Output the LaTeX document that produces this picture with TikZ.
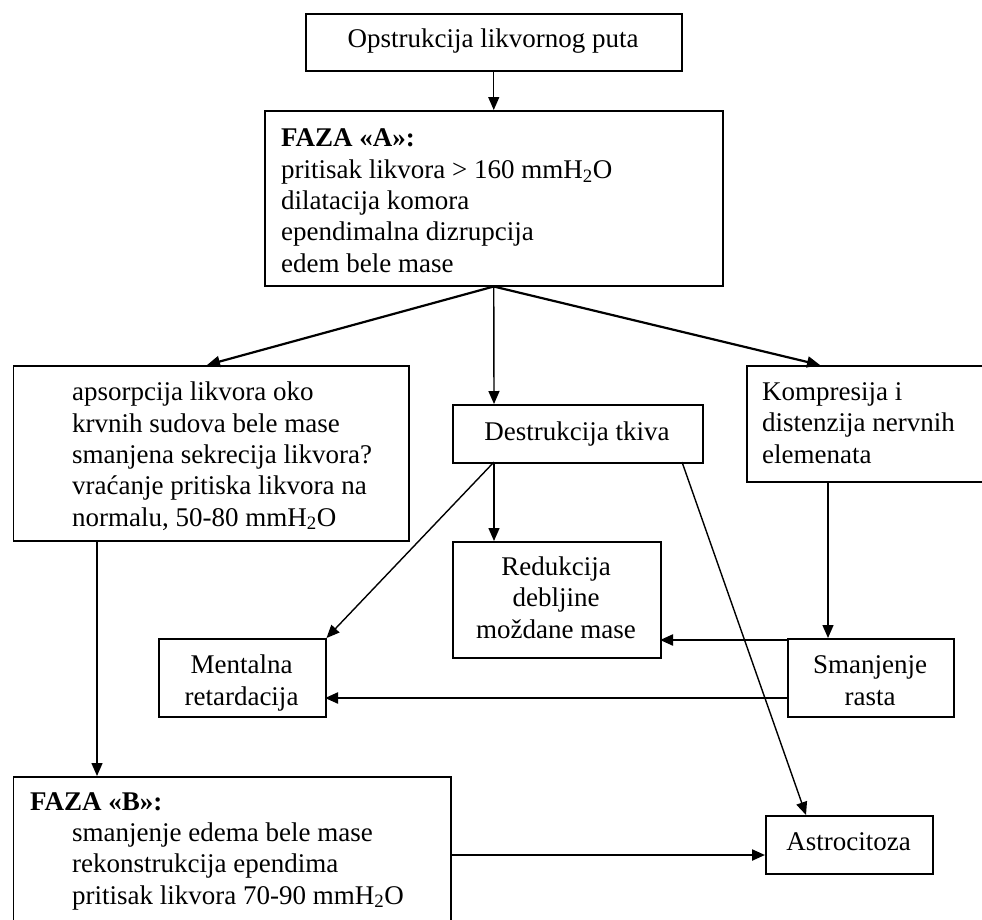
\documentclass[tikz,border=0pt]{standalone}
\usepackage{fontspec}
\setmainfont{Liberation Serif}
\usetikzlibrary{arrows.meta}
\begin{document}
\begin{tikzpicture}[x=1pt,y=-1pt,
  box/.style={draw, line width=1.5pt, inner sep=0pt, anchor=north west},
  txt/.style={anchor=base west, inner sep=0pt, align=left, font=\fontsize{27}{31.3}\selectfont},
  ctxt/.style={anchor=base, inner sep=0pt, align=center, font=\fontsize{27}{31.3}\selectfont},
  thin/.style={line width=1.4pt, -{Triangle[length=13pt,width=11pt]}},
  thick/.style={line width=2.2pt, -{Triangle[length=13pt,width=11pt]}}]
\useasboundingbox (0,0) rectangle (982,919);
% boxes
\node[box, minimum width=376pt, minimum height=57pt] (top) at (305,13) {};
\node[box, minimum width=458pt, minimum height=175pt] (fazaA) at (264,110) {};
\node[box, minimum width=395.5pt, minimum height=175pt] (left) at (12.5,365) {};
\node[box, minimum width=250pt, minimum height=58pt] (dest) at (452,404) {};
\node[box, minimum width=240pt, minimum height=116pt] (right) at (746,365) {};
\node[box, minimum width=208pt, minimum height=116pt] (red) at (452,541) {};
\node[box, minimum width=167pt, minimum height=78pt] (ment) at (158,638) {};
\node[box, minimum width=166pt, minimum height=78pt] (sman) at (787,638) {};
\node[box, minimum width=167pt, minimum height=58pt] (astro) at (765,815) {};
\node[box, minimum width=437.5pt, minimum height=160pt] (fazaB) at (12.5,776) {};
% texts (base anchor = baseline of the last line)
\node[ctxt] (topT) at (493,47) {Opstrukcija likvornog puta};
\node[txt] (fazaAT) at (281,272) {\textbf{FAZA «A»:}\\pritisak likvora > 160 mmH\textsubscript{2}O\\dilatacija komora\\ependimalna dizrupcija\\edem bele mase};
\node[txt] (leftT) at (72,526) {apsorpcija likvora oko\\krvnih sudova bele mase\\smanjena sekrecija likvora?\\vraćanje pritiska likvora na\\normalu, 50-80 mmH\textsubscript{2}O};
\node[ctxt] (destT) at (577,440) {Destrukcija tkiva};
\node[txt] (rightT) at (762,463) {Kompresija i\\distenzija nervnih\\elemenata};
\node[ctxt] (redT) at (556,638) {Redukcija\\debljine\\moždane mase};
\node[ctxt] (mentT) at (241.5,705) {Mentalna\\retardacija};
\node[ctxt] (smanT) at (870,705) {Smanjenje\\rasta};
\node[ctxt] (astroT) at (848.5,850) {Astrocitoza};
\node[txt] (fazaBH) at (30,810) {\textbf{FAZA «B»:}};
\node[txt] (fazaBT) at (72,904) {smanjenje edema bele mase\\rekonstrukcija ependima\\pritisak likvora 70-90 mmH\textsubscript{2}O};
% connector end points
\coordinate (lt) at (207,365);
\coordinate (rt) at (820,365);
\coordinate (dt) at (494,404);
\coordinate (db) at (494,462);
\coordinate (rdt) at (494,541);
\coordinate (db2) at (682,462);
\coordinate (at) at (806,815);
\coordinate (lb) at (97,540);
\coordinate (bt) at (97,776);
\coordinate (rb) at (828,481);
\coordinate (st) at (828,638);
\coordinate (sl1) at (787,640);
\coordinate (rr) at (660,640);
\coordinate (sl2) at (787,698);
\coordinate (mr) at (325,698);
\coordinate (br) at (450,855);
\coordinate (al) at (765,855);
% connectors
\draw[thin] (top.south) -- (fazaA.north);
\draw[thick] (fazaA.south) -- (lt);
\draw[thick] (fazaA.south) -- (rt);
\draw[thin] (fazaA.south) -- (dt);
\draw[thin] (db) -- (rdt);
\draw[thin] (db) -- (ment.north east);
\draw[thin] (db2) -- (at);
\draw[thin] (lb) -- (bt);
\draw[thin] (rb) -- (st);
\draw[thick] (sl1) -- (rr);
\draw[thick] (sl2) -- (mr);
\draw[thick] (br) -- (al);
\end{tikzpicture}
\end{document}
